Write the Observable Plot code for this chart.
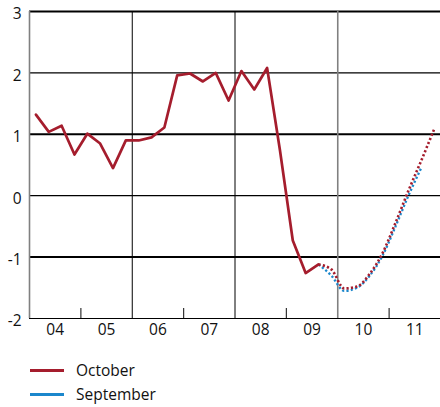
<!DOCTYPE html>
<html>
<head>
<meta charset="utf-8">
<script src="https://cdn.jsdelivr.net/npm/d3@7"></script>
<script src="https://cdn.jsdelivr.net/npm/@observablehq/plot@0.6"></script>
<style>
  body { margin: 0; background: #fff; font-family: "Open Sans", "Noto Sans", sans-serif; }
  #chart svg { display: block; }
  .legend { margin-left: 30px; margin-top: 16px; font-size: 15.5px; color: #111; }
  .legend .item { display: flex; align-items: center; height: 24px; }
  .legend .swatch { width: 34px; height: 3px; margin-right: 12px; }
</style>
</head>
<body>
<div id="chart"></div>
<div class="legend" id="legend"></div>
<script>
// Year labels (each label sits in the middle of its year)
const yearLabels = ["04", "05", "06", "07", "08", "09", "10", "11"];
const firstYear = 2004;
const yTicks = [3, 2, 1, 0, -1, -2];
const thickLevels = [3, 1, -1];
const thinLevels = [2, 0, -2];
const blackDividers = [2006, 2008];
const grayDividers = [2004, 2010];
const minorTicks = [2005, 2007, 2009, 2011];

// Quarterly values, October projection: outturn 2004Q1 - 2009Q3
const octoberActual = [
  1.32, 1.04, 1.14, 0.67,
  1.01, 0.85, 0.45, 0.90,
  0.90, 0.95, 1.11, 1.96,
  1.99, 1.86, 2.00, 1.55,
  2.03, 1.73, 2.08, 0.74,
  -0.73, -1.26, -1.12
];
// Forecasts starting at 2009Q3
const octoberForecast = [-1.12, -1.20, -1.51, -1.48, -1.27, -0.93, -0.44, 0.08, 0.57, 1.08];
const septemberForecast = [-1.12, -1.30, -1.55, -1.50, -1.30, -0.97, -0.50, 0.00, 0.45];

const seriesNames = ["October", "September"];
const colors = {October: "#a51d2d", September: "#1b87cc"};

const qx = i => firstYear + (i + 0.5) / 4;
const startForecast = octoberActual.length - 1;
const actualData = octoberActual.map((v, i) => ({x: qx(i), v}));
const octF = octoberForecast.map((v, i) => ({x: qx(startForecast + i), v}));
const sepF = septemberForecast.map((v, i) => ({x: qx(startForecast + i), v}));
const labelData = yearLabels.map((l, i) => ({x: firstYear + i + 0.5, l}));
const yMin = d3.min(yTicks);

const chart = Plot.plot({
  width: 440,
  height: 342,
  marginLeft: 29,
  marginRight: 0,
  marginTop: 11,
  marginBottom: 24,
  style: {fontFamily: "'Open Sans', 'Noto Sans', sans-serif", fontSize: "15px", background: "#fff"},
  x: {type: "linear", domain: [2004, 2012], axis: null},
  y: {type: "linear", domain: [-2, 3], axis: null},
  marks: [
    Plot.ruleY(thinLevels, {y: d => d, stroke: "#000", strokeWidth: 1.2}),
    Plot.ruleY(thickLevels, {y: d => d, stroke: "#000", strokeWidth: 2}),
    Plot.ruleX(blackDividers, {x: d => d, stroke: "#000", strokeWidth: 1}),
    Plot.ruleX(grayDividers, {x: d => d, stroke: "#808080", strokeWidth: 1.6}),
    Plot.ruleX(minorTicks, {x: d => d, y1: yMin, y2: yMin, insetTop: -10, stroke: "#333", strokeWidth: 1.2}),
    Plot.text(yTicks, {x: 2004, y: d => d, text: d => String(d), textAnchor: "end", dx: -8, dy: 3, fill: "#111", fontSize: 15.5}),
    Plot.text(labelData, {x: "x", y: yMin, text: "l", dy: 12, fill: "#111", fontSize: 15.5}),
    Plot.line(sepF, {x: "x", y: "v", stroke: colors.September, strokeWidth: 2.3, strokeDasharray: "2.2,2.2", strokeLinecap: "butt", curve: "monotone-x"}),
    Plot.line(octF, {x: "x", y: "v", stroke: colors.October, strokeWidth: 2.6, strokeDasharray: "2.2,2.2", strokeLinecap: "butt", curve: "monotone-x"}),
    Plot.line(actualData, {x: "x", y: "v", stroke: colors.October, strokeWidth: 2.7})
  ]
});
document.getElementById("chart").append(chart);

const legend = document.getElementById("legend");
for (const name of seriesNames) {
  const item = document.createElement("div");
  item.className = "item";
  const sw = document.createElement("span");
  sw.className = "swatch";
  sw.style.background = colors[name];
  const t = document.createElement("span");
  t.textContent = name;
  item.append(sw, t);
  legend.append(item);
}
</script>
</body>
</html>
